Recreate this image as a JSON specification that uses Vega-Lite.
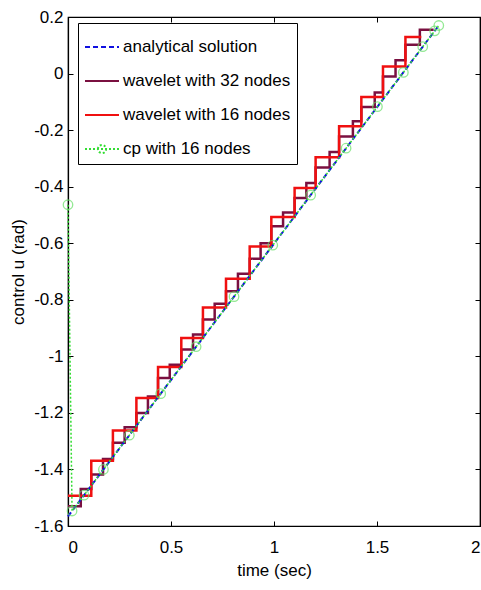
{
  "$schema": "https://vega.github.io/schema/vega-lite/v6.json",
  "width": 412,
  "height": 509,
  "autosize": {"type": "none"},
  "padding": {"left": 68, "top": 17, "right": 1, "bottom": 64},
  "background": "white",
  "config": {
    "font": "Liberation Sans",
    "view": {"stroke": "black", "strokeWidth": 1.2},
    "axis": {
      "grid": false,
      "domainColor": "black",
      "domainWidth": 1.2,
      "tickColor": "black",
      "tickWidth": 1,
      "tickSize": -5,
      "labelColor": "black",
      "titleColor": "black",
      "labelFont": "Liberation Sans",
      "titleFont": "Liberation Sans",
      "labelFontSize": 17,
      "titleFontSize": 17,
      "titleFontWeight": "normal"
    }
  },
  "data": {
    "values": [
      {"series": "analytical solution", "t": 0, "u": -1.566},
      {"series": "analytical solution", "t": 1.8, "u": 0.17},

      {"series": "wavelet with 32 nodes", "t": 0, "u": -1.53},
      {"series": "wavelet with 32 nodes", "t": 0.062, "u": -1.469},
      {"series": "wavelet with 32 nodes", "t": 0.113, "u": -1.418},
      {"series": "wavelet with 32 nodes", "t": 0.17, "u": -1.363},
      {"series": "wavelet with 32 nodes", "t": 0.218, "u": -1.306},
      {"series": "wavelet with 32 nodes", "t": 0.275, "u": -1.251},
      {"series": "wavelet with 32 nodes", "t": 0.332, "u": -1.2},
      {"series": "wavelet with 32 nodes", "t": 0.388, "u": -1.142},
      {"series": "wavelet with 32 nodes", "t": 0.437, "u": -1.077},
      {"series": "wavelet with 32 nodes", "t": 0.494, "u": -1.03},
      {"series": "wavelet with 32 nodes", "t": 0.55, "u": -0.976},
      {"series": "wavelet with 32 nodes", "t": 0.607, "u": -0.923},
      {"series": "wavelet with 32 nodes", "t": 0.655, "u": -0.87},
      {"series": "wavelet with 32 nodes", "t": 0.712, "u": -0.814},
      {"series": "wavelet with 32 nodes", "t": 0.767, "u": -0.77},
      {"series": "wavelet with 32 nodes", "t": 0.825, "u": -0.708},
      {"series": "wavelet with 32 nodes", "t": 0.882, "u": -0.655},
      {"series": "wavelet with 32 nodes", "t": 0.935, "u": -0.6},
      {"series": "wavelet with 32 nodes", "t": 0.987, "u": -0.54},
      {"series": "wavelet with 32 nodes", "t": 1.044, "u": -0.491},
      {"series": "wavelet with 32 nodes", "t": 1.1, "u": -0.44},
      {"series": "wavelet with 32 nodes", "t": 1.157, "u": -0.387},
      {"series": "wavelet with 32 nodes", "t": 1.202, "u": -0.332},
      {"series": "wavelet with 32 nodes", "t": 1.27, "u": -0.277},
      {"series": "wavelet with 32 nodes", "t": 1.316, "u": -0.223},
      {"series": "wavelet with 32 nodes", "t": 1.383, "u": -0.169},
      {"series": "wavelet with 32 nodes", "t": 1.424, "u": -0.118},
      {"series": "wavelet with 32 nodes", "t": 1.489, "u": -0.067},
      {"series": "wavelet with 32 nodes", "t": 1.529, "u": -0.01},
      {"series": "wavelet with 32 nodes", "t": 1.59, "u": 0.047},
      {"series": "wavelet with 32 nodes", "t": 1.638, "u": 0.102},
      {"series": "wavelet with 32 nodes", "t": 1.708, "u": 0.155},
      {"series": "wavelet with 32 nodes", "t": 1.775, "u": 0.155},

      {"series": "wavelet with 16 nodes", "t": 0, "u": -1.493},
      {"series": "wavelet with 16 nodes", "t": 0.113, "u": -1.369},
      {"series": "wavelet with 16 nodes", "t": 0.218, "u": -1.262},
      {"series": "wavelet with 16 nodes", "t": 0.332, "u": -1.147},
      {"series": "wavelet with 16 nodes", "t": 0.437, "u": -1.038},
      {"series": "wavelet with 16 nodes", "t": 0.55, "u": -0.935},
      {"series": "wavelet with 16 nodes", "t": 0.655, "u": -0.827},
      {"series": "wavelet with 16 nodes", "t": 0.767, "u": -0.726},
      {"series": "wavelet with 16 nodes", "t": 0.882, "u": -0.612},
      {"series": "wavelet with 16 nodes", "t": 0.987, "u": -0.507},
      {"series": "wavelet with 16 nodes", "t": 1.1, "u": -0.405},
      {"series": "wavelet with 16 nodes", "t": 1.202, "u": -0.296},
      {"series": "wavelet with 16 nodes", "t": 1.316, "u": -0.186},
      {"series": "wavelet with 16 nodes", "t": 1.424, "u": -0.083},
      {"series": "wavelet with 16 nodes", "t": 1.529, "u": 0.025},
      {"series": "wavelet with 16 nodes", "t": 1.638, "u": 0.129},
      {"series": "wavelet with 16 nodes", "t": 1.715, "u": 0.129},

      {"series": "cp with 16 nodes", "t": 0, "u": -0.464},
      {"series": "cp with 16 nodes", "t": 0.0197, "u": -1.547},
      {"series": "cp with 16 nodes", "t": 0.0778, "u": -1.491},
      {"series": "cp with 16 nodes", "t": 0.1719, "u": -1.4},
      {"series": "cp with 16 nodes", "t": 0.2978, "u": -1.279},
      {"series": "cp with 16 nodes", "t": 0.45, "u": -1.132},
      {"series": "cp with 16 nodes", "t": 0.6219, "u": -0.966},
      {"series": "cp with 16 nodes", "t": 0.806, "u": -0.789},
      {"series": "cp with 16 nodes", "t": 0.994, "u": -0.607},
      {"series": "cp with 16 nodes", "t": 1.178, "u": -0.43},
      {"series": "cp with 16 nodes", "t": 1.35, "u": -0.264},
      {"series": "cp with 16 nodes", "t": 1.502, "u": -0.117},
      {"series": "cp with 16 nodes", "t": 1.628, "u": 0.004},
      {"series": "cp with 16 nodes", "t": 1.722, "u": 0.095},
      {"series": "cp with 16 nodes", "t": 1.78, "u": 0.151},
      {"series": "cp with 16 nodes", "t": 1.8, "u": 0.17}
    ]
  },
  "resolve": {"axis": {"x": "independent", "y": "independent"}},
  "layer": [
    {
      "encoding": {
        "x": {
          "field": "t", "type": "quantitative",
          "scale": {"domain": [0, 2], "nice": false, "zero": false},
          "axis": {"values": [0, 0.5, 1, 1.5, 2], "labelExpr": "toString(datum.value)", "title": "time (sec)", "labelPadding": 18, "titlePadding": 7}
        },
        "y": {
          "field": "u", "type": "quantitative",
          "scale": {"domain": [-1.6, 0.2], "nice": false, "zero": false},
          "axis": {"values": [-1.6, -1.4, -1.2, -1, -0.8, -0.6, -0.4, -0.2, 0, 0.2], "labelExpr": "toString(datum.value)", "title": "control u (rad)", "labelPadding": 10, "titlePadding": 6}
        },
        "color": {
          "field": "series", "type": "nominal",
          "scale": {
            "domain": ["analytical solution", "wavelet with 32 nodes", "wavelet with 16 nodes", "cp with 16 nodes"],
            "range": ["#1010e0", "#7a1040", "#f01010", "#33dd33"]
          },
          "legend": {
            "title": null,
            "orient": "none",
            "legendX": 10,
            "legendY": 6,
            "strokeColor": "black",
            "fillColor": "white",
            "padding": 6,
            "labelFont": "Liberation Sans",
            "labelFontSize": 17,
            "labelColor": "black",
            "labelLimit": 300,
            "labelOffset": 3,
            "symbolType": "stroke",
            "symbolSize": 1156,
            "symbolStrokeWidth": 2,
            "rowPadding": 8,
            "encode": {
              "symbols": {
                "update": {
                  "shape": {"signal": "datum.value == 'cp with 16 nodes' ? 'M-1,0H1M-0.24,0A0.24,0.24,0,1,1,0.24,0A0.24,0.24,0,1,1,-0.24,0' : 'stroke'"}
                }
              }
            }
          }
        },
        "strokeDash": {
          "field": "series", "type": "nominal",
          "scale": {
            "domain": ["analytical solution", "wavelet with 32 nodes", "wavelet with 16 nodes", "cp with 16 nodes"],
            "range": [[5, 3], [1, 0], [1, 0], [2, 2]]
          }
        }
      },
      "layer": [
        {
          "transform": [{"filter": "datum.series == 'wavelet with 32 nodes'"}],
          "mark": {"type": "line", "interpolate": "step-after", "strokeWidth": 2.5}
        },
        {
          "transform": [{"filter": "datum.series == 'wavelet with 16 nodes'"}],
          "mark": {"type": "line", "interpolate": "step-after", "strokeWidth": 2.5}
        },
        {
          "transform": [{"filter": "datum.series == 'analytical solution'"}],
          "mark": {"type": "line", "strokeWidth": 2}
        },
        {
          "transform": [{"filter": "datum.series == 'cp with 16 nodes'"}],
          "mark": {"type": "line", "strokeWidth": 1.5}
        }
      ]
    },
    {
      "transform": [{"filter": "datum.series == 'cp with 16 nodes'"}],
      "mark": {"type": "point", "shape": "circle", "filled": false, "color": "#66e066", "size": 90, "strokeWidth": 1.3},
      "encoding": {
        "x": {"field": "t", "type": "quantitative", "axis": {"orient": "top", "labels": false, "title": null, "values": [0, 0.5, 1, 1.5, 2]}},
        "y": {"field": "u", "type": "quantitative", "axis": {"orient": "right", "labels": false, "title": null, "values": [-1.6, -1.4, -1.2, -1, -0.8, -0.6, -0.4, -0.2, 0, 0.2]}}
      }
    }
  ]
}
